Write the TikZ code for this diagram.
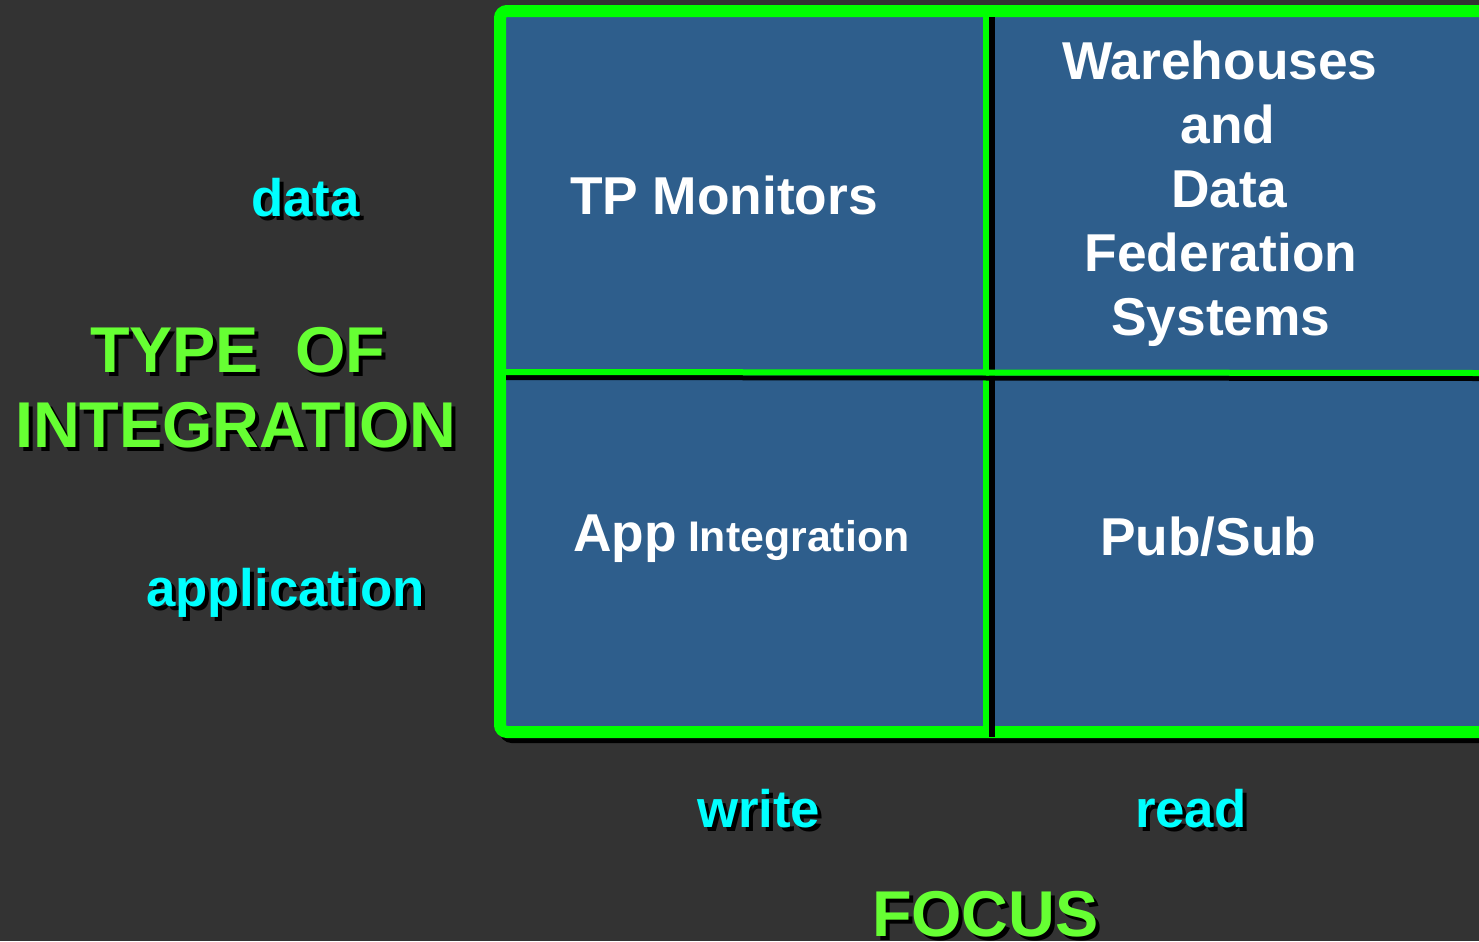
\documentclass[tikz,border=0pt]{standalone}
\usepackage{fontspec}
\setmainfont{Liberation Sans}
\definecolor{bgcol}{HTML}{333333}
\definecolor{cellfill}{HTML}{2E5E8C}
\definecolor{framegreen}{HTML}{00FF00}
\definecolor{lblcyan}{HTML}{00FFFF}
\definecolor{ttlgreen}{HTML}{66FF33}
\tikzset{
  txt/.style={inner sep=0pt, outer sep=0pt, font=\bfseries\fontsize{#1}{#1}\selectfont},
  shad/.style={xshift=4bp, yshift=-4bp, text=black},
}
\newcommand\shtext[6]{% name, x, y, color, size, text
  \node[txt=#5, anchor=base west, shad] (#1-sh) at (#2,#3) {#6};
  \node[txt=#5, anchor=base west, text=#4] (#1) at (#2,#3) {#6};
}
\begin{document}
\begin{tikzpicture}[x=1bp,y=-1bp]
\useasboundingbox (0,0) rectangle (1479,941);
\fill[bgcol] (0,0) rectangle (1479,941);
\clip (0,0) rectangle (1479,941);
% frame
\draw[black, line width=12bp, rounded corners=7bp] (505,16) rectangle (1520,737);
\draw[framegreen, fill=cellfill, line width=12bp, rounded corners=7bp] (500,11) rectangle (1520,732);
% dividers
\coordinate (vtop) at (986,17);
\coordinate (vbot) at (986,732);
\coordinate (hleft) at (506,372);
\coordinate (hright) at (1479,373);
\draw[black, line width=6bp] ([xshift=6bp]vtop) -- ([xshift=6bp,yshift=-5bp]vbot);
\draw[framegreen, line width=6bp] (vtop) -- (vbot);
\draw[black, line width=5bp] ([yshift=-5.5bp]hleft) -- ([yshift=-5.5bp]hright);
\draw[framegreen, line width=6bp] (hleft) -- (hright);
% axis labels
\shtext{data}{251}{216}{lblcyan}{53}{data}
\shtext{application}{146}{606}{lblcyan}{53}{application}
\shtext{write}{697}{827}{lblcyan}{53}{write}
\shtext{read}{1135}{827}{lblcyan}{53}{read}
\shtext{typeof}{90}{372}{ttlgreen}{65}{TYPE\ \ OF}
\shtext{integration}{15}{447}{ttlgreen}{65}{INTEGRATION}
\shtext{focus}{872}{936}{ttlgreen}{65}{FOCUS}
% cell texts
\node[txt=53.5, anchor=base west, text=white] (tp) at (570,214) {TP Monitors};
\node[txt=53.5, anchor=base, text=white] (w1) at (1220,79) {Warehouses};
\node[txt=53.5, anchor=base, text=white] (w2) at (1228,143) {and};
\node[txt=53.5, anchor=base, text=white] (w3) at (1229,207) {Data};
\node[txt=53.5, anchor=base, text=white] (w4) at (1221,271) {Federation};
\node[txt=53.5, anchor=base, text=white] (w5) at (1221,335) {Systems};
\node[txt=53.5, anchor=base west, text=white] (app) at (573,551) {App};
\node[txt=43, anchor=base west, text=white] (integ) at (688,551) {Integration};
\node[txt=53.5, anchor=base west, text=white] (pubsub) at (1100,555) {Pub/Sub};
\end{tikzpicture}
\end{document}
